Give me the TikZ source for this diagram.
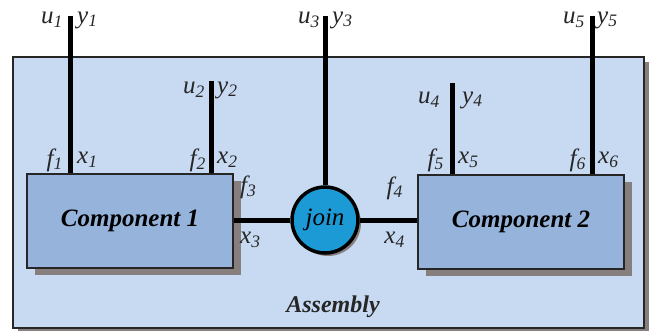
\documentclass[tikz,border=0pt]{standalone}
\usepackage{fontspec}
\setmainfont{Liberation Serif}
\usepackage{tikz}
\usetikzlibrary{positioning, shadows}
\definecolor{asmfill}{HTML}{C8DAF1}
\definecolor{compfill}{HTML}{95B3DB}
\definecolor{joinfill}{HTML}{1C9AD6}
\definecolor{shade}{HTML}{877E7E}
\definecolor{ink}{HTML}{262626}

\begin{document}
\begin{tikzpicture}[
  x=1pt, y=-1pt,
  asm/.style={rectangle, draw=ink, line width=1.2pt, fill=asmfill, inner sep=0pt,
    minimum width=631pt, minimum height=271pt,
    drop shadow={shadow xshift=5pt, shadow yshift=-5pt, fill=shade, opacity=1}},
  comp/.style={rectangle, draw=ink, line width=1.2pt, fill=compfill, inner sep=0pt,
    minimum width=206pt, minimum height=94pt, font=\fontsize{25}{28}\selectfont\bfseries\itshape,
    drop shadow={shadow xshift=8pt, shadow yshift=-7pt, fill=shade, opacity=1}},
  joint/.style={circle, draw=black, line width=3.5pt, fill=joinfill, inner sep=0pt,
    minimum size=66pt, font=\fontsize{25}{28}\selectfont\itshape,
    drop shadow={shadow xshift=3pt, shadow yshift=-3pt, fill=shade, opacity=1}},
  lab/.style={font=\fontsize{25}{28}\selectfont\itshape, text=ink, inner sep=1pt},
  bar/.style={line width=5pt, draw=black}
]
\useasboundingbox (0,0) rectangle (650,331);
\node[asm] (asm) at (328.5,192.5) {};
\node[font=\fontsize{24}{26}\selectfont\bfseries\itshape, text=ink] (asmlab) at (333,307) {Assembly};

\node[comp] (comp1) at (130,221) {Component 1};
\node[comp] (comp2) at (521,222) {Component 2};
\node[joint] (join) at (325,220) {join};

\foreach \i/\xx/\yy in {1/70/16, 2/211/81, 3/325/16, 4/452/83, 5/592/16}
  \coordinate (t\i) at (\xx,\yy);

\draw[bar] (t1) -- (t1 |- comp1.north);
\draw[bar] (t2) -- (t2 |- comp1.north);
\draw[bar] (t3) -- (join.north);
\draw[bar] (t4) -- (t4 |- comp2.north);
\draw[bar] (t5) -- (t5 |- comp2.north);
\draw[bar] (comp1.east |- join) -- (join);
\draw[bar] (join) -- (comp2.west |- join);

\node[lab, anchor=east] (u1) at (64,20) {u\textsubscript{1}};
\node[lab, anchor=west] (y1) at (76,20) {y\textsubscript{1}};
\node[lab, anchor=east] (u2) at (206,90) {u\textsubscript{2}};
\node[lab, anchor=west] (y2) at (216,90) {y\textsubscript{2}};
\node[lab, anchor=east] (u3) at (321,20) {u\textsubscript{3}};
\node[lab, anchor=west] (y3) at (331,20) {y\textsubscript{3}};
\node[lab, anchor=east] (u4) at (441,100) {u\textsubscript{4}};
\node[lab, anchor=west] (y4) at (461,100) {y\textsubscript{4}};
\node[lab, anchor=east] (u5) at (586,20) {u\textsubscript{5}};
\node[lab, anchor=west] (y5) at (596,20) {y\textsubscript{5}};

\node[lab, anchor=east] (f1) at (64,160) {f\textsubscript{1}};
\node[lab, anchor=west] (x1) at (76,160) {x\textsubscript{1}};
\node[lab, anchor=east] (f2) at (207,160) {f\textsubscript{2}};
\node[lab, anchor=west] (x2) at (216,160) {x\textsubscript{2}};
\node[lab, anchor=west] (f3) at (239,187) {f\textsubscript{3}};
\node[lab, anchor=west] (x3) at (239,240) {x\textsubscript{3}};
\node[lab, anchor=east] (f4) at (404,188) {f\textsubscript{4}};
\node[lab, anchor=east] (x4) at (406,240) {x\textsubscript{4}};
\node[lab, anchor=east] (f5) at (445,160) {f\textsubscript{5}};
\node[lab, anchor=west] (x5) at (457,160) {x\textsubscript{5}};
\node[lab, anchor=east] (f6) at (587,160) {f\textsubscript{6}};
\node[lab, anchor=west] (x6) at (597,160) {x\textsubscript{6}};
\end{tikzpicture}
\end{document}
